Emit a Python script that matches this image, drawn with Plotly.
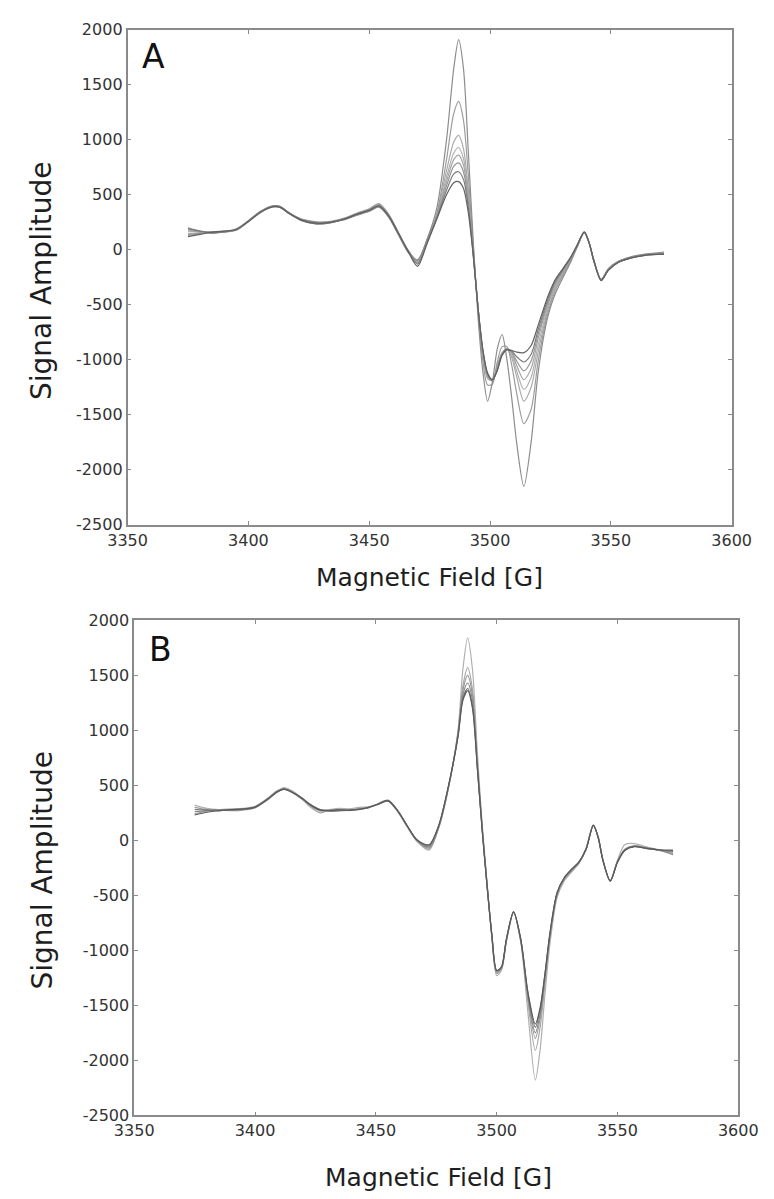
import plotly.graph_objects as go

# ---------------- data ----------------
field_a = [3375, 3380, 3385, 3390, 3395, 3400, 3405, 3410, 3413, 3417, 3422, 3428, 3434, 3440, 3445,
           3450, 3454, 3458, 3462, 3466, 3470, 3474, 3478, 3482, 3485, 3487, 3489, 3491, 3493, 3495,
           3497, 3499, 3501, 3503, 3505, 3507, 3509, 3511, 3514, 3517, 3520, 3524, 3527, 3530, 3533,
           3536, 3539, 3541, 3543, 3546, 3549, 3553, 3558, 3564, 3572]

a_spec0 = [200, 170, 150, 165, 190, 265, 350, 400, 395, 335, 280, 255, 255, 275, 315,
           350, 390, 300, 140, -20, -90, 100, 380, 1000, 1650, 1910, 1650, 900, 100, -600,
           -1100, -1375, -1200, -900, -770, -1000, -1350, -1750, -2150, -1750, -1100, -600, -400, -260, -130,
           20, 155, 60, -110, -270, -170, -105, -65, -40, -20]
a_spec1 = [130, 150, 165, 170, 180, 255, 340, 390, 385, 325, 265, 235, 245, 280, 325,
           360, 405, 310, 150, -10, -120, 70, 330, 820, 1240, 1350, 1180, 680, 50, -550,
           -1000, -1230, -1220, -1020, -880, -880, -1050, -1300, -1580, -1450, -1000, -570, -370, -240, -115,
           25, 158, 62, -105, -272, -175, -108, -68, -45, -35]
a_spec2 = [180, 160, 155, 160, 185, 265, 345, 395, 390, 330, 270, 240, 250, 285, 330,
           365, 410, 320, 160, 0, -100, 80, 320, 720, 980, 1040, 920, 550, 20, -520,
           -950, -1170, -1190, -1050, -940, -900, -980, -1150, -1375, -1250, -920, -540, -350, -225, -105,
           30, 160, 65, -100, -268, -178, -110, -70, -45, -40]
a_spec3 = [150, 155, 160, 165, 180, 258, 342, 392, 388, 328, 268, 238, 248, 282, 322,
           358, 400, 310, 150, -10, -110, 80, 310, 660, 880, 930, 830, 500, 0, -520,
           -940, -1160, -1190, -1060, -940, -900, -960, -1100, -1270, -1160, -860, -510, -330, -215, -100,
           32, 160, 65, -100, -270, -178, -110, -70, -45, -30]
a_spec4 = [170, 165, 160, 160, 178, 256, 344, 394, 392, 332, 274, 250, 252, 278, 318,
           352, 388, 300, 145, -15, -115, 85, 305, 620, 820, 860, 770, 470, -10, -520,
           -930, -1150, -1190, -1070, -940, -900, -940, -1050, -1180, -1080, -800, -490, -315, -205, -95,
           35, 160, 65, -100, -275, -180, -110, -70, -45, -30]
a_spec5 = [140, 150, 160, 168, 182, 262, 348, 398, 394, 335, 272, 245, 258, 290, 335,
           372, 420, 325, 160, 0, -100, 90, 300, 580, 760, 790, 710, 430, -20, -520,
           -920, -1140, -1190, -1080, -940, -900, -930, -1010, -1100, -1010, -760, -470, -300, -195, -90,
           35, 160, 65, -100, -275, -185, -115, -75, -50, -35]
a_spec6 = [190, 170, 155, 162, 184, 260, 346, 396, 392, 330, 268, 236, 246, 280, 322,
           356, 398, 305, 150, -5, -130, 70, 290, 540, 690, 710, 640, 390, -30, -520,
           -910, -1130, -1185, -1090, -950, -905, -920, -970, -1020, -950, -720, -445, -285, -185, -85,
           38, 160, 65, -100, -275, -185, -115, -75, -50, -40]
a_spec7 = [120, 140, 160, 170, 185, 258, 340, 390, 388, 330, 270, 242, 250, 282, 325,
           360, 400, 310, 155, -10, -150, 60, 280, 500, 610, 620, 560, 340, -40, -520,
           -900, -1120, -1180, -1100, -960, -910, -915, -930, -935, -870, -680, -420, -270, -175, -80,
           40, 160, 65, -100, -280, -185, -115, -75, -50, -40]

field_b = [3375, 3380, 3385, 3390, 3395, 3400, 3405, 3409, 3412, 3415, 3419, 3423, 3427, 3431, 3435,
           3439, 3443, 3447, 3451, 3455, 3459, 3463, 3467, 3472, 3476, 3480, 3484, 3486, 3488, 3490,
           3492, 3494, 3496, 3498, 3500, 3502, 3504, 3507, 3510, 3513, 3516, 3518, 3520, 3522, 3525,
           3528, 3531, 3534, 3537, 3540, 3542, 3544, 3547, 3550, 3553, 3557, 3562, 3567, 3573]

b_spec0 = [320, 290, 280, 285, 290, 310, 380, 450, 480, 455, 390, 310, 265, 280, 290,
           285, 300, 305, 330, 355, 260, 120, -10, -90, 110, 470, 1000, 1550, 1840, 1550,
           800, 150, -380, -880, -1230, -1180, -920, -660, -930, -1580, -2180, -1900, -1400, -950, -520,
           -370, -290, -210, -70, 140, 30, -180, -370, -180, -40, -30, -60, -90, -110]
b_spec1 = [240, 265, 270, 280, 285, 305, 375, 440, 470, 445, 385, 300, 250, 275, 280,
           270, 290, 300, 325, 360, 265, 125, -5, -80, 115, 470, 980, 1400, 1570, 1370,
           720, 120, -390, -870, -1210, -1170, -920, -655, -920, -1480, -1910, -1700, -1300, -900, -500,
           -355, -280, -210, -80, 138, 30, -180, -368, -190, -80, -50, -65, -85, -120]
b_spec2 = [300, 280, 275, 270, 275, 295, 365, 435, 462, 440, 380, 320, 280, 268, 272,
           278, 282, 298, 330, 362, 268, 128, 0, -70, 120, 475, 970, 1360, 1500, 1320,
           700, 110, -395, -865, -1200, -1165, -915, -655, -915, -1440, -1800, -1620, -1260, -880, -490,
           -350, -275, -205, -80, 137, 30, -182, -370, -195, -85, -50, -70, -88, -95]
b_spec3 = [260, 270, 275, 280, 282, 300, 372, 442, 468, 442, 392, 325, 275, 262, 268,
           275, 285, 295, 335, 365, 272, 130, 0, -60, 125, 480, 960, 1320, 1430, 1270,
           680, 105, -400, -860, -1190, -1160, -910, -650, -910, -1420, -1750, -1580, -1240, -870, -485,
           -345, -270, -200, -80, 137, 28, -182, -372, -195, -90, -55, -75, -90, -130]
b_spec4 = [280, 275, 272, 276, 280, 298, 368, 438, 465, 440, 388, 318, 272, 270, 275,
           272, 278, 300, 330, 358, 270, 130, 2, -50, 130, 485, 950, 1290, 1380, 1220,
           665, 100, -405, -860, -1185, -1155, -905, -650, -905, -1400, -1700, -1540, -1220, -860, -480,
           -340, -265, -200, -82, 136, 28, -184, -370, -198, -90, -55, -72, -88, -100]
b_spec5 = [230, 255, 268, 278, 285, 302, 370, 440, 466, 442, 390, 322, 276, 272, 276,
           274, 282, 300, 328, 360, 270, 132, 5, -40, 135, 490, 940, 1270, 1360, 1200,
           655, 95, -410, -858, -1183, -1150, -900, -650, -900, -1390, -1670, -1520, -1210, -850, -475,
           -338, -262, -198, -84, 135, 27, -185, -368, -200, -92, -58, -74, -86, -90]

x_ticks = [3350, 3400, 3450, 3500, 3550, 3600]
x_tick_labels = ["3350", "3400", "3450", "3500", "3550", "3600"]
y_ticks = [-2500, -2000, -1500, -1000, -500, 0, 500, 1000, 1500, 2000]
y_tick_labels = ["-2500", "-2000", "-1500", "-1000", "-500", "0", "500", "1000", "1500", "2000"]

panel_labels = ["A", "B"]
x_title = "Magnetic Field [G]"
y_title = "Signal Amplitude"

# ---------------- styling ----------------
W, H = 774, 1199
FONT = "DejaVu Sans"
a_series = [a_spec0, a_spec1, a_spec2, a_spec3, a_spec4, a_spec5, a_spec6, a_spec7]
a_colors = ["#8c8c8c", "#9c9c9c", "#aaaaaa", "#b2b2b2", "#a4a4a4", "#979797", "#7c7c7c", "#606060"]
b_series = [b_spec0, b_spec1, b_spec2, b_spec3, b_spec4, b_spec5]
b_colors = ["#b0b0b0", "#a6a6a6", "#999999", "#8a8a8a", "#717171", "#5a5a5a"]

fig = go.Figure()

a_order = [3, 2, 4, 1, 5, 0, 6, 7]
for i in a_order:
    fig.add_trace(go.Scatter(x=field_a, y=a_series[i], mode="lines", xaxis="x", yaxis="y",
                             line=dict(color=a_colors[i], width=1.2, shape="spline", smoothing=0.8),
                             showlegend=False, hoverinfo="skip"))
for i in range(len(b_series)):
    fig.add_trace(go.Scatter(x=field_b, y=b_series[i], mode="lines", xaxis="x2", yaxis="y2",
                             line=dict(color=b_colors[i], width=1.2, shape="spline", smoothing=0.8),
                             showlegend=False, hoverinfo="skip"))


def px_x(p):
    return p / W


def px_y(p):
    return 1 - p / H


axis_common = dict(showline=True, mirror="allticks", linecolor="#8a8a8a", linewidth=1.6,
                   ticks="inside", ticklen=4, tickwidth=1, tickcolor="#8a8a8a",
                   showgrid=False, zeroline=False,
                   tickfont=dict(family=FONT, size=16, color="#333333"))

fig.update_layout(
    width=W, height=H,
    margin=dict(l=0, r=0, t=0, b=0),
    paper_bgcolor="white", plot_bgcolor="white",
    xaxis=dict(domain=[px_x(105), px_x(742)], anchor="y", range=[3350, 3600],
               tickvals=x_ticks, ticktext=x_tick_labels, **axis_common),
    yaxis=dict(domain=[px_y(516), px_y(13)], anchor="x", range=[-2500, 2000],
               tickvals=y_ticks, ticktext=y_tick_labels, **axis_common),
    xaxis2=dict(domain=[px_x(112), px_x(749)], anchor="y2", range=[3350, 3600],
                tickvals=x_ticks, ticktext=x_tick_labels, **axis_common),
    yaxis2=dict(domain=[px_y(1116), px_y(613)], anchor="x2", range=[-2500, 2000],
                tickvals=y_ticks, ticktext=y_tick_labels, **axis_common),
)

ann = []
# axis titles
for cx, cy in [(423, 570), (433, 1179)]:
    ann.append(dict(text=x_title, x=px_x(cx), y=px_y(cy), xref="paper", yref="paper",
                    showarrow=False, xanchor="center", yanchor="middle",
                    font=dict(family=FONT, size=25, color="#1e1e1e")))
for cx, cy in [(15, 268), (15, 867)]:
    ann.append(dict(text=y_title, x=px_x(cx), y=px_y(cy), xref="paper", yref="paper",
                    showarrow=False, xanchor="center", yanchor="middle", textangle=-90,
                    font=dict(family=FONT, size=28, color="#1e1e1e")))
# panel letters
for lab, lx, ly in [(panel_labels[0], 118, 40), (panel_labels[1], 126, 643)]:
    ann.append(dict(text=lab, x=px_x(lx), y=px_y(ly), xref="paper", yref="paper",
                    showarrow=False, xanchor="left", yanchor="middle",
                    font=dict(family=FONT, size=33, color="#111111")))
fig.update_layout(annotations=ann)

fig.write_html("out.html")
